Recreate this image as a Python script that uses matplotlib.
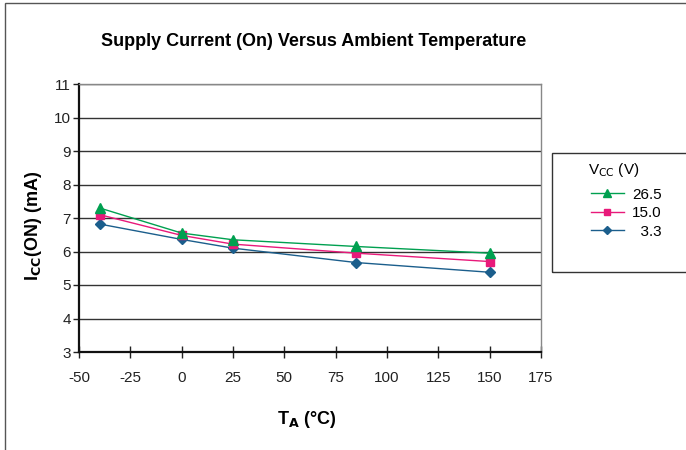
import matplotlib
matplotlib.use("Agg")
import matplotlib.pyplot as plt
from matplotlib.patches import Rectangle

plt.rcParams['font.family'] = ['Liberation Sans', 'DejaVu Sans']
plt.rcParams['axes.unicode_minus'] = False

# DATA
temps = [-40, 0, 25, 85, 150]
icc_265 = [7.30, 6.55, 6.35, 6.15, 5.95]
icc_150 = [7.10, 6.48, 6.22, 5.95, 5.70]
icc_33 = [6.82, 6.36, 6.10, 5.67, 5.38]
series_labels = ["26.5", "15.0", "  3.3"]

x_ticks = [-50, -25, 0, 25, 50, 75, 100, 125, 150, 175]
y_ticks = list(range(3, 12))

# PLOT
fig = plt.figure(figsize=(6.86, 4.5), dpi=100)
ax = fig.add_axes([79 / 686, 1 - 352 / 450, 462 / 686, 268 / 450])

ax.plot(temps, icc_265, color="#00a050", marker="^", markersize=7, lw=1, label=series_labels[0], zorder=4)
ax.plot(temps, icc_150, color="#e8197a", marker="s", markersize=5.5, lw=1, label=series_labels[1], zorder=3)
ax.plot(temps, icc_33, color="#1b5e8c", marker="D", markersize=5.5, lw=1, label=series_labels[2], zorder=2)

ax.set_xlim(-50, 175)
ax.set_ylim(3, 11)
ax.set_xticks(x_ticks)
ax.set_yticks(y_ticks)
ax.tick_params(axis='both', labelsize=11, colors='#222222')
ax.tick_params(axis='x', direction='inout', length=8, width=1, pad=10)
ax.tick_params(axis='y', direction='out', length=4, width=1, pad=2)
ax.grid(axis='y', color='#333333', lw=1)
ax.set_axisbelow(True)

for side in ['top', 'right']:
    ax.spines[side].set_color('#888888')
    ax.spines[side].set_linewidth(1)
for side in ['left', 'bottom']:
    ax.spines[side].set_color('#111111')
    ax.spines[side].set_linewidth(1.6)

fig.text(314 / 686, 1 - 42 / 450, "Supply Current (On) Versus Ambient Temperature",
         ha='center', va='center', fontsize=13, fontweight='bold')
fig.text(307 / 686, 1 - 420 / 450, r"T$_\mathbf{A}$ (°C)", ha='center', va='center',
         fontsize=13, fontweight='bold')
fig.text(33 / 686, 1 - 226 / 450, r"I$_\mathbf{CC}$(ON) (mA)", ha='center', va='center',
         rotation=90, fontsize=13, fontweight='bold')

# figure frame and legend box
fig.patches.append(Rectangle((5 / 686, -0.1), 1.2, 1 - 3 / 450 + 0.1, transform=fig.transFigure,
                             fill=False, edgecolor='#555555', lw=1))
fig.patches.append(Rectangle((552 / 686, 1 - 272 / 450), 0.3, 119 / 450, transform=fig.transFigure,
                             fill=False, edgecolor='#333333', lw=1))

leg = fig.legend(loc='upper left', bbox_to_anchor=(583 / 686, 1 - 180 / 450), frameon=False,
                 fontsize=11, handlelength=2.2, handletextpad=0.5, labelspacing=0.3,
                 borderpad=0, markerscale=0.8)
fig.text(614 / 686, 1 - 170 / 450, "V$_\\mathrm{CC}$ (V)", ha='center', va='center', fontsize=11)

fig.savefig("out.png", dpi=100)
